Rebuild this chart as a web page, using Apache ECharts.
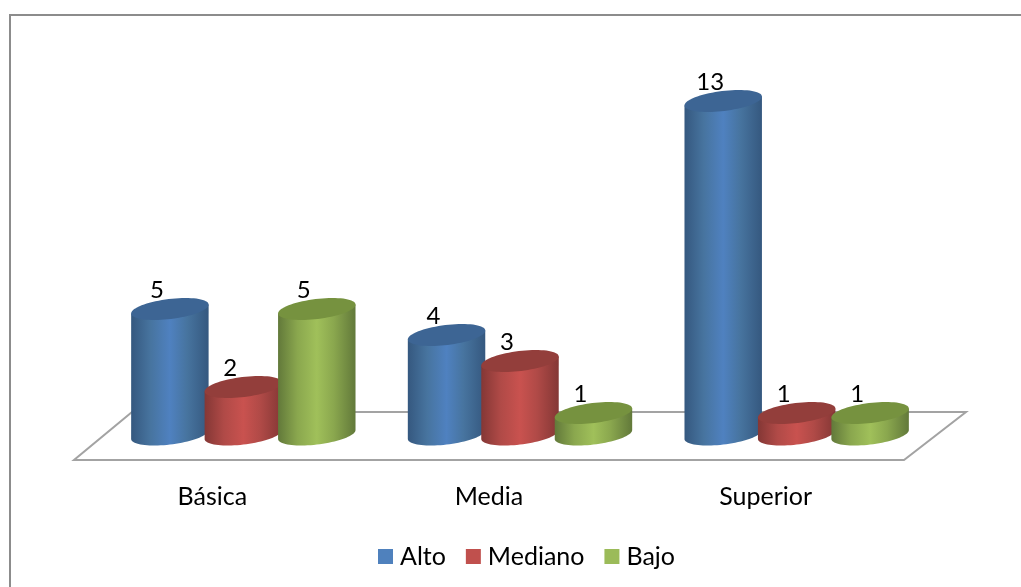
<!DOCTYPE html>
<html><head><meta charset="utf-8">
<style>html,body{margin:0;padding:0;background:#fff}#c{width:1021px;height:587px}</style>
<script src="https://cdn.jsdelivr.net/npm/echarts@6/dist/echarts.min.js"></script>
</head><body><div id="c"></div>
<script>
const categories = ['Básica', 'Media', 'Superior'];
const alto = [5, 4, 13];
const mediano = [2, 3, 1];
const bajo = [5, 1, 1];
const seriesNames = ['Alto', 'Mediano', 'Bajo'];
const colors = [
  {mid:'#4f81c0', side:'#47749f', edge:'#35587f', top:'#3d6594'},
  {mid:'#c9524f', side:'#b04a47', edge:'#843735', top:'#933e3b'},
  {mid:'#a0c05a', side:'#8aa74e', edge:'#62793a', top:'#76923f'}
];
const FONT = 'Lato';
const chart = echarts.init(document.getElementById('c'), null, {renderer:'canvas'});

const RX = 39, RY = 10, TH = -7 * Math.PI / 180;
function ellipsePt(cx, cy, t) {
  const c = Math.cos(t), s = Math.sin(t);
  return [cx + RX*c*Math.cos(TH) - RY*s*Math.sin(TH), cy + RX*c*Math.sin(TH) + RY*s*Math.cos(TH)];
}
function cylinderRender(si, col) {
  return function (params, api) {
    const cat = api.value(0), v = api.value(1);
    const base = api.coord([cat, 0]);
    const band = api.size([1, 0])[0];
    const cx = base[0] + 31 + (si - 1) * band * 0.2655;
    const topY = api.coord([cat, v])[1] - 21;
    const baseY = base[1] - 25.5;
    const t0 = Math.atan(-(RY/RX) * Math.tan(TH));
    const body = [], top = [];
    for (let i = 0; i <= 40; i++) body.push(ellipsePt(cx, baseY, t0 + Math.PI * i / 40));
    body.push(ellipsePt(cx, topY, t0 + Math.PI), ellipsePt(cx, topY, t0));
    for (let i = 0; i < 72; i++) top.push(ellipsePt(cx, topY, Math.PI * 2 * i / 72));
    return {type:'group', children:[
      {type:'polygon', shape:{points:body}, style:{fill:new echarts.graphic.LinearGradient(0,0,1,0,[
        {offset:0,color:col.edge},{offset:0.25,color:col.side},{offset:0.5,color:col.mid},{offset:0.72,color:col.side},{offset:1,color:col.edge}])}},
      {type:'polygon', shape:{points:top}, style:{fill:col.top}},
      {type:'text', z2:10, style:{text:String(v), x:cx-13, y:topY-19, align:'center', verticalAlign:'middle',
        font:'24px '+FONT, fill:'#000'}}
    ]};
  };
}
function series(name, idx, arr) {
  return {type:'custom', name:name, coordinateSystem:'cartesian2d', clip:false, z:3+idx,
    itemStyle:{color:'#'+['4f81bd','c0504d','9bbb59'][idx]},
    encode:{x:0,y:1},
    data:arr.map((v,i)=>[i,v]), renderItem:cylinderRender(idx, colors[idx])};
}
chart.setOption({
  animation:false,
  backgroundColor:'#fff',
  graphic:[{type:'polyline', z:0, shape:{points:[[10,587],[10,15],[1021,15]]}, style:{fill:'none',stroke:'#8c8c8c',lineWidth:2}}],
  grid:{left:74, right:117, top:44, bottom:127},
  legend:{data:seriesNames, left:373, top:539, icon:'rect', itemWidth:15, itemHeight:15, itemGap:20,
    textStyle:{fontFamily:FONT, fontSize:25, color:'#000', padding:[0,0,0,2]}},
  xAxis:{type:'category', data:categories, axisTick:{show:false}, axisLine:{show:false},
    axisLabel:{fontFamily:FONT, fontSize:25, color:'#000', margin:24}},
  yAxis:{type:'value', min:0, max:16, interval:4, show:false, splitLine:{show:false}},
  series:[
    {type:'custom', silent:true, z:1, data:[[0,0]], encode:{x:0,y:1}, clip:false,
     renderItem:function(params, api){
       const b = api.coord([0,0]), band = api.size([1,0])[0];
       const x0 = b[0]-band/2, x1 = x0+band*categories.length, y = b[1];
       return {type:'polygon', shape:{points:[[x0,y],[x1,y],[x1+62,y-48],[x0+58,y-48]]},
         style:{fill:'none', stroke:'#a3a3a3', lineWidth:2}};
     }},
    series('Alto',0,alto), series('Mediano',1,mediano), series('Bajo',2,bajo)
  ]
});
</script></body></html>
